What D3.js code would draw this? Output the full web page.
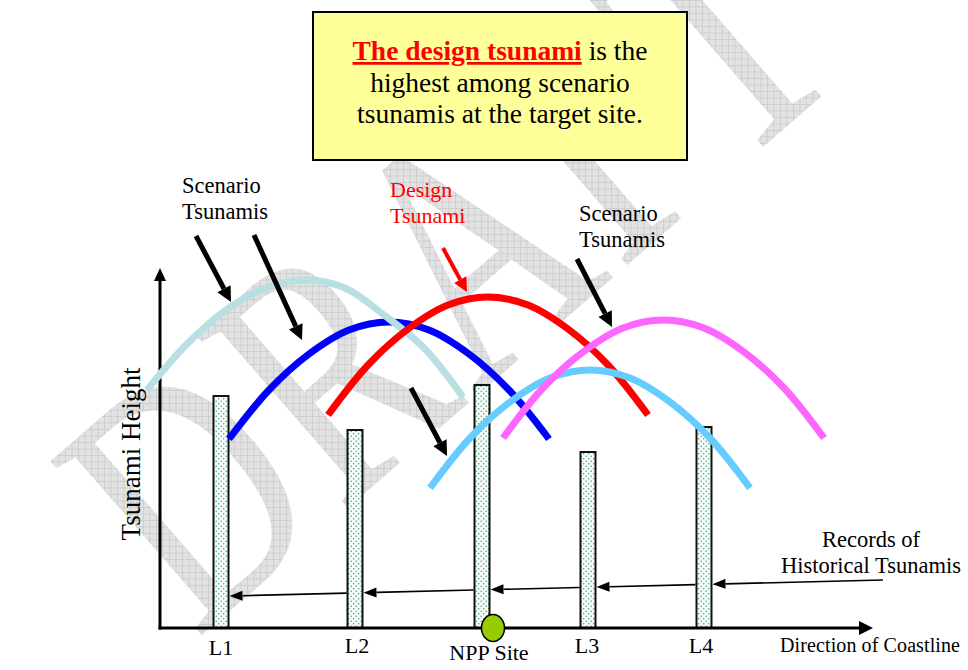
<!DOCTYPE html>
<html>
<head>
<meta charset="utf-8">
<script src="https://cdn.jsdelivr.net/npm/d3@7"></script>
<style>
  body { margin: 0; background: #fff; }
  svg { display: block; }
  text { font-family: "Liberation Serif", "Times New Roman", Times, serif; }
</style>
</head>
<body>
<div id="chart"></div>
<script>
// distance along the coast (0..710) and tsunami height (0..360)
const sites = ["L1", "L2", "NPP Site", "L3", "L4"]
const sitePos = [61, 195, 322, 428, 544]
const labelPos = [61, 197, 329, 427, 541]
const recordHeights = [232, 198, 243, 176, 201]

const curveColors = ["#0000ff", "#b8dfe2", "#ff0000", "#66ccff", "#ff66ff"]
const blueCurve = [[69,189],[109,238],[149,274],[189,298],[229,306],[269,298],[309,274],[349,238],[389,189]]
const paleCurve = [[-13,238],[27,284],[66,318],[106,340],[145,348],[185,340],[224,313],[264,280],[303,231]]
const designCurve = [[168,213],[208,263],[248,299],[288,323],[328,331],[368,323],[408,299],[448,263],[488,213]]
const skyCurve = [[270,140],[310,190],[350,226],[390,250],[430,258],[470,250],[510,226],[550,190],[590,140]]
const pinkCurve = [[343,190],[383,240],[423,276],[463,300],[503,308],[544,300],[584,276],[624,240],[664,190]]
const curves = [blueCurve, paleCurve, designCurve, skyCurve, pinkCurve]

// pointer arrows [x1, h1, x2, h2]
const scenarioArrows = [[36,392,71,326],[94,393,142,288],[251,240,287,172],[417,369,452,301]]
const designArrow = [283,380,307,336]
const recordsLine = [[723,48],[70,32]]

const W = 968, H = 670
const svg = d3.select("#chart").append("svg").attr("width", W).attr("height", H)
  .attr("font-family", "Liberation Serif, Times New Roman, serif")
const x = d3.scaleLinear().domain([0, 710]).range([160, 870])
const y = d3.scaleLinear().domain([0, 360]).range([628, 268])

const defs = svg.append("defs")
const hatch = defs.append("pattern").attr("id", "hatch").attr("patternUnits", "userSpaceOnUse")
  .attr("width", 6.5).attr("height", 6.5)
hatch.append("rect").attr("width", 6.5).attr("height", 6.5).attr("fill", "#e2e2e2")
hatch.append("path").attr("d", "M0,0.4H6.5M0.4,0V6.5").attr("stroke", "#c8c8c8").attr("stroke-width", 0.8)
const dots = defs.append("pattern").attr("id", "dots").attr("patternUnits", "userSpaceOnUse")
  .attr("width", 5).attr("height", 5)
dots.append("rect").attr("width", 5).attr("height", 5).attr("fill", "#f6fbf8")
dots.append("circle").attr("cx", 1.2).attr("cy", 1.2).attr("r", 0.7).attr("fill", "#2f9a68")
dots.append("circle").attr("cx", 3.7).attr("cy", 3.7).attr("r", 0.7).attr("fill", "#2f9a68")

// DRAFT watermark, stretched like a word-art watermark; clip keeps the hatch screen-aligned
defs.append("clipPath").attr("id", "wm").append("text")
  .attr("transform", "translate(196,640) rotate(-41) scale(1,1.38)")
  .attr("font-size", 255).attr("letter-spacing", 8).text("DRAFT")
svg.append("rect").attr("width", W).attr("height", H).attr("fill", "url(#hatch)").attr("clip-path", "url(#wm)")

function arrow(x1, y1, x2, y2, w, len, half, color) {
  const a = Math.atan2(y2 - y1, x2 - x1)
  const bx = x2 - len * Math.cos(a), by = y2 - len * Math.sin(a)
  svg.append("line").attr("x1", x1).attr("y1", y1).attr("x2", bx).attr("y2", by)
    .attr("stroke", color).attr("stroke-width", w)
  svg.append("polygon").attr("fill", color).attr("points", [
    [x2, y2],
    [bx + half * Math.sin(a), by - half * Math.cos(a)],
    [bx - half * Math.sin(a), by + half * Math.cos(a)]
  ].join(" "))
}

// records of historical tsunamis
svg.selectAll("rect.bar").data(recordHeights).enter().append("rect")
  .attr("class", "bar")
  .attr("x", (d, i) => x(sitePos[i]) - 7.5)
  .attr("y", d => y(d))
  .attr("width", 15)
  .attr("height", d => y(0) - y(d))
  .attr("fill", "url(#dots)").attr("stroke", "#111").attr("stroke-width", 2)

// axes
arrow(x(0), y(0) + 1.5, x(0), y(360), 3, 13, 6, "#000")
arrow(x(0) - 1.5, y(0), x(713), y(0), 3, 14, 7, "#000")

// scenario tsunamis
const line = d3.line().x(d => x(d[0])).y(d => y(d[1])).curve(d3.curveCatmullRom)
svg.selectAll("path.wave").data(curves).enter().append("path")
  .attr("class", "wave")
  .attr("d", line)
  .attr("fill", "none")
  .attr("stroke", (d, i) => curveColors[i])
  .attr("stroke-width", 7)

// arrows from the records label along the coast
const slope = (recordsLine[1][1] - recordsLine[0][1]) / (recordsLine[1][0] - recordsLine[0][0])
const hAt = px => recordsLine[0][1] + slope * (px - recordsLine[0][0])
let from = recordsLine[0][0]
for (let i = sites.length - 1; i >= 0; i--) {
  const to = sitePos[i] + 8.5
  arrow(x(from), y(hAt(from)), x(to), y(hAt(to)), 1.6, 13, 5, "#000")
  from = sitePos[i] - 8.5
}

scenarioArrows.forEach(a => arrow(x(a[0]), y(a[1]), x(a[2]), y(a[3]), 5, 15, 7.5, "#000"))
arrow(x(designArrow[0]), y(designArrow[1]), x(designArrow[2]), y(designArrow[3]), 4, 14, 7, "#ff0000")

// NPP site marker
svg.append("ellipse").attr("cx", x(333)).attr("cy", y(0)).attr("rx", 11.5).attr("ry", 13.5)
  .attr("fill", "#99cc00").attr("stroke", "#000").attr("stroke-width", 1.5)

// site labels
svg.selectAll("text.site").data(sites).enter().append("text")
  .attr("class", "site")
  .attr("x", (d, i) => x(labelPos[i]))
  .attr("y", (d, i) => i === 2 ? 660 : (i === 0 ? 655 : 653))
  .attr("text-anchor", "middle").attr("font-size", 22)
  .text(d => d)

svg.append("text").attr("x", 780).attr("y", 652).attr("font-size", 20)
  .attr("textLength", 180).text("Direction of Coastline")

svg.append("text").attr("transform", "translate(140,454) rotate(-90)")
  .attr("text-anchor", "middle").attr("font-size", 27).text("Tsunami Height")

function label(lines, px, py, color, size, anchor) {
  const t = svg.append("text").attr("x", px).attr("y", py).attr("font-size", size)
    .attr("fill", color).attr("text-anchor", anchor || "start")
  lines.forEach((s, i) => t.append("tspan").attr("x", px).attr("dy", i ? 25.5 : 0).text(s))
}
label(["Scenario", "Tsunamis"], 182, 193, "#000", 22.5)
label(["Design", "Tsunami"], 390, 197, "#ff0000", 22)
label(["Scenario", "Tsunamis"], 579, 221, "#000", 22.5)
label(["Records of", "Historical Tsunamis"], 871, 547, "#000", 22.5, "middle")

// message box
svg.append("rect").attr("x", 313).attr("y", 12).attr("width", 374).attr("height", 148)
  .attr("fill", "#ffff99").attr("stroke", "#000").attr("stroke-width", 2)
const msg = svg.append("text").attr("text-anchor", "middle").attr("font-size", 27.5)
const l1 = msg.append("tspan").attr("x", 500).attr("y", 60)
l1.append("tspan").attr("fill", "#ff0000").attr("font-weight", "bold")
  .attr("text-decoration", "underline").text("The design tsunami")
l1.append("tspan").text(" is the")
msg.append("tspan").attr("x", 500).attr("y", 92).text("highest among scenario")
msg.append("tspan").attr("x", 500).attr("y", 123).text("tsunamis at the target site.")
</script>
</body>
</html>
